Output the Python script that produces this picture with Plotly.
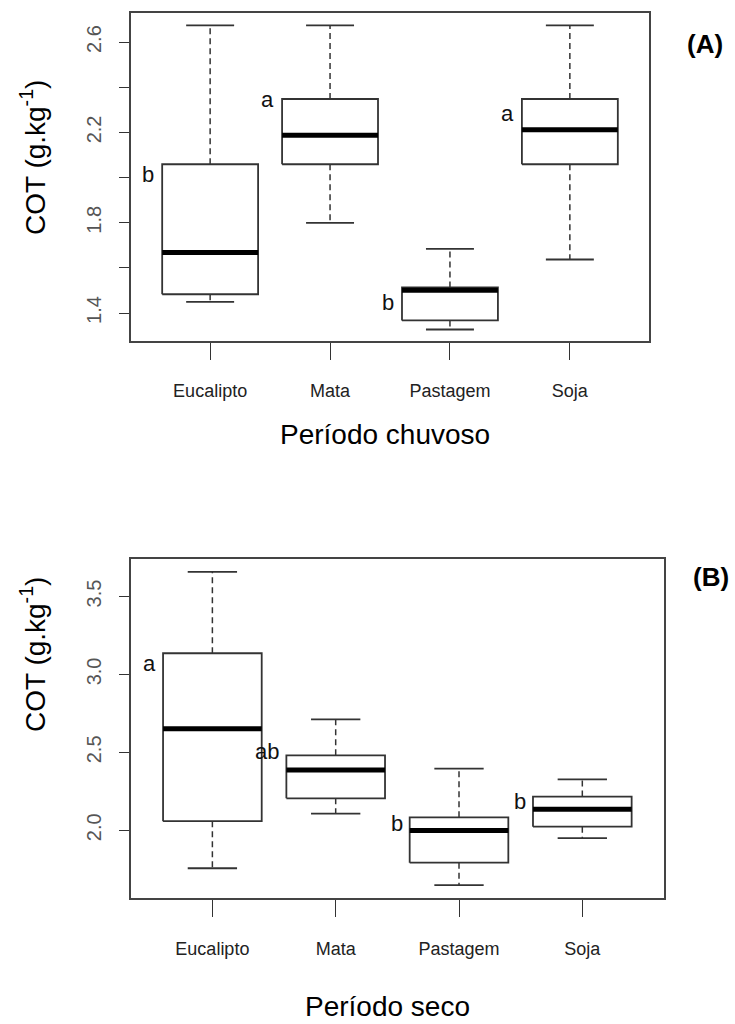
import plotly.graph_objects as go

# ---------------- data ----------------
categories = ["Eucalipto", "Mata", "Pastagem", "Soja"]

# Panel A - Período chuvoso
lower_A = [1.449, 1.799, 1.327, 1.637]
q1_A = [1.483, 2.059, 1.367, 2.059]
median_A = [1.668, 2.187, 1.501, 2.212]
q3_A = [2.059, 2.348, 1.513, 2.348]
upper_A = [2.674, 2.674, 1.684, 2.674]
letters_A = ["b", "a", "b", "a"]
letter_y_A = [2.015, 2.348, 1.446, 2.282]

# Panel B - Período seco
lower_B = [1.756, 2.107, 1.647, 1.949]
q1_B = [2.058, 2.205, 1.792, 2.023]
median_B = [2.652, 2.387, 1.998, 2.135]
q3_B = [3.136, 2.481, 2.083, 2.216]
upper_B = [3.658, 2.712, 2.395, 2.327]
letters_B = ["a", "ab", "b", "b"]
letter_y_B = [3.070, 2.505, 2.045, 2.184]

yticks_A = [1.4, 1.8, 2.2, 2.6]
yticktext_A = ["1.4", "1.8", "2.2", "2.6"]
yminor_step_A = 0.2
yticks_B = [2.0, 2.5, 3.0, 3.5]
yticktext_B = ["2.0", "2.5", "3.0", "3.5"]

# ---------------- styling ----------------
W, H = 735, 1024
BOX_HALF = 0.4
CAP_HALF = 0.2
BOX_COLOR = "#333333"
FRAME_COLOR = "#444444"
ARIAL = "Liberation Sans, Arial, sans-serif"

fig = go.Figure()


def add_boxes(lower, q1, med, q3, upper, xa, ya):
    bx, by, mx, my, wx, wy, cx, cy = [], [], [], [], [], [], [], []
    for i in range(len(categories)):
        x = i + 1
        l, r = x - BOX_HALF, x + BOX_HALF
        bx += [l, r, r, l, l, None]
        by += [q1[i], q1[i], q3[i], q3[i], q1[i], None]
        mx += [l, r, None]
        my += [med[i], med[i], None]
        wx += [x, x, None, x, x, None]
        wy += [q3[i], upper[i], None, q1[i], lower[i], None]
        cx += [x - CAP_HALF, x + CAP_HALF, None, x - CAP_HALF, x + CAP_HALF, None]
        cy += [upper[i], upper[i], None, lower[i], lower[i], None]
    common = dict(mode="lines", xaxis=xa, yaxis=ya, hoverinfo="skip", showlegend=False)
    fig.add_trace(go.Scatter(x=wx, y=wy, line=dict(color=BOX_COLOR, width=1.5, dash="6px,4px"), **common))
    fig.add_trace(go.Scatter(x=cx, y=cy, line=dict(color=BOX_COLOR, width=1.8), **common))
    fig.add_trace(go.Scatter(x=bx, y=by, fill="toself", fillcolor="white",
                             line=dict(color=BOX_COLOR, width=1.8), **common))
    fig.add_trace(go.Scatter(x=mx, y=my, line=dict(color="black", width=5), **common))


add_boxes(lower_A, q1_A, median_A, q3_A, upper_A, "x", "y")
add_boxes(lower_B, q1_B, median_B, q3_B, upper_B, "x2", "y2")

letter_font = dict(family=ARIAL, size=22, color="#111")
annotations = []
for i, t in enumerate(letters_A):
    annotations.append(dict(x=i + 1 - 0.45, y=letter_y_A[i], xref="x", yref="y", text=t,
                            showarrow=False, xanchor="right", yanchor="middle", font=letter_font))
for i, t in enumerate(letters_B):
    annotations.append(dict(x=i + 1 - 0.44, y=letter_y_B[i], xref="x2", yref="y2", text=t,
                            showarrow=False, xanchor="right", yanchor="middle", font=letter_font))


def paper(px, py):
    return px / W, 1 - py / H


title_font = dict(family=ARIAL, size=28, color="black")
for txt, (px, py), ang in [
    ("COT (g.kg<sup>-1</sup>)", (33, 158), -90),
    ("COT (g.kg<sup>-1</sup>)", (33, 655), -90),
    ("Período chuvoso", (385, 434), 0),
    ("Período seco", (387, 1006), 0),
]:
    x, y = paper(px, py)
    annotations.append(dict(x=x, y=y, xref="paper", yref="paper", text=txt, textangle=ang,
                            showarrow=False, xanchor="center", yanchor="middle", font=title_font))
for txt, (px, py) in [("<b>(A)</b>", (705, 44)), ("<b>(B)</b>", (711, 577))]:
    x, y = paper(px, py)
    annotations.append(dict(x=x, y=y, xref="paper", yref="paper", text=txt, showarrow=False,
                            xanchor="center", yanchor="middle",
                            font=dict(family=ARIAL, size=26, color="black")))

xcommon = dict(range=[0.34, 4.66], tickmode="array", tickvals=[1, 2, 3, 4], ticktext=categories,
               ticks="outside", ticklen=17, tickwidth=1.3, tickcolor=BOX_COLOR,
               showline=True, linecolor=FRAME_COLOR, linewidth=1.6, mirror=True,
               showgrid=False, zeroline=False, ticklabelstandoff=16,
               tickfont=dict(family=ARIAL, size=18, color="#222"))
ycommon = dict(ticks="outside", ticklen=10, tickwidth=1.3, tickcolor=BOX_COLOR,
               showline=True, linecolor=FRAME_COLOR, linewidth=1.6, mirror=True,
               showgrid=False, zeroline=False, tickangle=-90, ticklabelstandoff=10,
               tickfont=dict(family=ARIAL, size=20, color="#555"))

fig.update_layout(
    width=W, height=H, margin=dict(l=0, r=0, t=0, b=0),
    paper_bgcolor="white", plot_bgcolor="white", showlegend=False,
    xaxis=dict(domain=[131 / W, 649 / W], anchor="y", **xcommon),
    yaxis=dict(domain=[1 - 341 / H, 1 - 13 / H], anchor="x", range=[1.276, 2.729],
               tickmode="array", tickvals=yticks_A, ticktext=yticktext_A,
               minor=dict(ticks="outside", ticklen=10, tickwidth=1.3, tickcolor=BOX_COLOR,
                          tick0=yticks_A[0], dtick=yminor_step_A, showgrid=False),
               **ycommon),
    xaxis2=dict(domain=[131 / W, 663.7 / W], anchor="y2", **xcommon),
    yaxis2=dict(domain=[1 - 898.3 / H, 1 - 559 / H], anchor="x2", range=[1.563, 3.741],
                tickmode="array", tickvals=yticks_B, ticktext=yticktext_B, **ycommon),
    annotations=annotations,
)

fig.write_html("out.html")
